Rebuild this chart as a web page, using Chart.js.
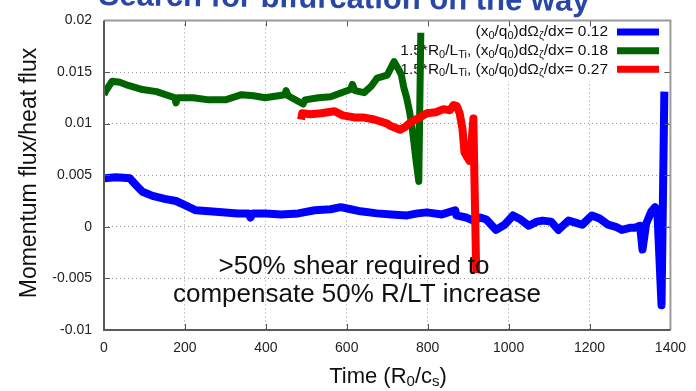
<!DOCTYPE html>
<html><head><meta charset="utf-8">
<script src="https://cdn.jsdelivr.net/npm/chart.js@4.4.0/dist/chart.umd.min.js"></script>
<style>html,body{margin:0;padding:0;background:#fff}#wrap{width:696px;height:391px;position:relative}</style>
</head><body><div id="wrap"><canvas id="c" width="696" height="391"></canvas></div>
<script>
// ---- data ----
const blueT=[0,30,64,80,95,120,150,178,200,227,260,292,330,357,362,368,400,438,480,521,560,585,610,634,675,710,749,775,798,835,868,871,895,913,930,945,969,990,1011,1030,1050,1070,1084,1105,1123,1148,1165,1182,1206,1225,1246,1265,1280,1300,1312,1325,1331,1340,1353,1362,1368,1378,1385];
const blueV=[0.0047,0.0048,0.0047,0.0040,0.0034,0.0030,0.0027,0.0025,0.0021,0.0016,0.0015,0.0014,0.0013,0.0013,0.0009,0.0013,0.0013,0.0012,0.0013,0.0016,0.0017,0.0019,0.0017,0.0015,0.0013,0.0012,0.0011,0.0013,0.0014,0.0012,0.0016,0.0011,0.0009,0.0006,0.0009,0.0007,-0.0003,0.0002,0.0011,0.0007,0.0001,0.0005,0.0006,0.0005,-0.0003,0.0006,0.0004,0.0002,0.0011,0.0008,0.0002,0.0000,-0.0003,-0.0001,-0.0001,0.0001,-0.0022,0.0003,0.0015,0.0019,0.0012,-0.0076,0.0131];
const greenT=[0,5,20,39,60,95,130,175,178,182,220,259,300,340,370,398,447,450,455,492,497,530,560,609,614,620,643,660,675,700,717,729,735,741,748,755,762,771,778,783];
const greenV=[0.0128,0.0132,0.0141,0.0140,0.0137,0.0133,0.0131,0.0125,0.0120,0.0125,0.0125,0.0123,0.0123,0.0128,0.0127,0.0125,0.0128,0.0132,0.0127,0.0119,0.0123,0.0125,0.0126,0.0133,0.0138,0.0132,0.0130,0.0136,0.0144,0.0147,0.0160,0.0152,0.0147,0.0135,0.0125,0.0112,0.0095,0.0065,0.0044,0.0188];
const redT=[487,490,510,536,570,590,619,640,668,700,707,720,732,745,757,780,798,820,839,855,864,872,879,886,891,903,908,913,915,920];
const redV=[0.0104,0.0110,0.0109,0.0110,0.0112,0.0108,0.0106,0.0106,0.0104,0.0100,0.0098,0.0096,0.0094,0.0097,0.0101,0.0106,0.0110,0.0111,0.0114,0.0113,0.0118,0.0117,0.0110,0.0095,0.0072,0.0064,0.0080,0.0105,0.0060,-0.0045];
const xTicks=[0,200,400,600,800,1000,1200,1400];
const xTickLabels=['0','200','400','600','800','1000','1200','1400'];
const yTicks=[-0.01,-0.005,0,0.005,0.01,0.015,0.02];
const yTickLabels=['-0.01','-0.005','0','0.005','0.01','0.015','0.02'];
// rich-text labels: [text, isSubscript]
const seriesLabels=[
  [['(x',0],['0',1],['/q',0],['0',1],[')dΩ',0],['ζ',1],['/dx= 0.12',0]],
  [['1.5*R',0],['0',1],['/L',0],['Ti',1],[', (x',0],['0',1],['/q',0],['0',1],[')dΩ',0],['ζ',1],['/dx= 0.18',0]],
  [['1.5*R',0],['0',1],['/L',0],['Ti',1],[', (x',0],['0',1],['/q',0],['0',1],[')dΩ',0],['ζ',1],['/dx= 0.27',0]]
];
const seriesColors=['#0000ff','#006400','#ff0000'];
const titleText='Search for bifurcation on the way';
const noteLines=['>50% shear required to','compensate 50% R/LT increase'];
const yTitle='Momentum flux/heat flux';
const xTitle=[['Time (R',0],['0',1],['/c',0],['s',1],[')',0]];

const FAM='"Liberation Sans", Arial, Helvetica, sans-serif';
function pts(t,v){return t.map((x,i)=>({x:x,y:v[i]}));}

function drawRich(ctx,segs,x,y,align,size,subSize,subDy){
  let w=0;
  segs.forEach(s=>{ctx.font=(s[1]?subSize:size)+'px '+FAM; w+=ctx.measureText(s[0]).width;});
  let cx = align==='right'? x-w : align==='center'? x-w/2 : x;
  ctx.textAlign='left';
  segs.forEach(s=>{
    ctx.font=(s[1]?subSize:size)+'px '+FAM;
    ctx.fillText(s[0],cx,y+(s[1]?subDy:0));
    cx+=ctx.measureText(s[0]).width;
  });
}

const deco={
  id:'deco',
  beforeDatasetsDraw(chart){
    const {ctx,chartArea:a}=chart;
    ctx.save();
    ctx.fillStyle='#fff';
    ctx.fillRect(345,a.top+1,a.right-345-1,80-a.top);
    ctx.fillStyle='#111';
    ctx.textBaseline='middle';
    const rowsY=[32,50.7,69.3];
    seriesLabels.forEach((segs,i)=>{
      drawRich(ctx,segs,608,rowsY[i],'right',15.5,11,4);
      ctx.strokeStyle=seriesColors[i];
      ctx.lineWidth=7;
      ctx.beginPath();ctx.moveTo(617,rowsY[i]);ctx.lineTo(659,rowsY[i]);ctx.stroke();
    });
    ctx.restore();
  },
  afterDatasetsDraw(chart){
    const {ctx,chartArea:a,scales}=chart;
    ctx.save();
    // inward ticks
    ctx.strokeStyle='#555';ctx.lineWidth=1;
    ctx.beginPath();
    xTicks.forEach(v=>{const px=Math.round(scales.x.getPixelForValue(v))+0.5;
      ctx.moveTo(px,a.bottom);ctx.lineTo(px,a.bottom-6);
      ctx.moveTo(px,a.top);ctx.lineTo(px,a.top+6);});
    yTicks.forEach(v=>{const py=Math.round(scales.y.getPixelForValue(v))+0.5;
      ctx.moveTo(a.left,py);ctx.lineTo(a.left+6,py);
      ctx.moveTo(a.right,py);ctx.lineTo(a.right-6,py);});
    ctx.stroke();
    // frame
    ctx.lineWidth=2;
    ctx.strokeStyle='#9a9a9a';
    ctx.beginPath();ctx.moveTo(a.left,a.top);ctx.lineTo(a.right,a.top);ctx.lineTo(a.right,a.bottom);ctx.stroke();
    ctx.strokeStyle='#5a5a5a';
    ctx.beginPath();ctx.moveTo(a.left,a.top);ctx.lineTo(a.left,a.bottom);ctx.lineTo(a.right,a.bottom);ctx.stroke();
    // annotation
    ctx.fillStyle='#111';ctx.textAlign='center';ctx.textBaseline='middle';
    ctx.font='26px '+FAM;
    ctx.fillText(noteLines[0],354,267);
    ctx.fillText(noteLines[1],357,295);
    // y title
    ctx.save();ctx.translate(30,173);ctx.rotate(-Math.PI/2);
    ctx.font='23px '+FAM;ctx.fillText(yTitle,0,0);ctx.restore();
    // x title
    ctx.textBaseline='middle';
    drawRich(ctx,xTitle,388,377,'center',22,15,5);
    // slide title (clipped at top)
    ctx.save();ctx.translate(344,8);ctx.rotate(0.012);
    ctx.font='bold 31px '+FAM;ctx.fillStyle='#2a46a6';ctx.textAlign='center';ctx.textBaseline='alphabetic';
    ctx.fillText(titleText,0,0);ctx.restore();
    ctx.restore();
  }
};

new Chart(document.getElementById('c'),{
  type:'line',
  data:{datasets:[
    {label:'blue',data:pts(blueT,blueV),borderColor:seriesColors[0],borderWidth:8,order:3},
    {label:'green',data:pts(greenT,greenV),borderColor:seriesColors[1],borderWidth:7,order:2},
    {label:'red',data:pts(redT,redV),borderColor:seriesColors[2],borderWidth:8,order:1}
  ]},
  options:{
    responsive:false,animation:false,devicePixelRatio:1,
    parsing:true,
    elements:{point:{radius:0},line:{tension:0,borderJoinStyle:'round',borderCapStyle:'butt'}},
    layout:{padding:{top:16,right:20,left:0,bottom:0}},
    plugins:{legend:{display:false},tooltip:{enabled:false}},
    scales:{
      x:{type:'linear',min:0,max:1400,
        afterBuildTicks:s=>{s.ticks=xTicks.map(v=>({value:v}));},
        afterFit:s=>{s.height=61;},
        ticks:{callback:(v,i)=>xTickLabels[i],color:'#222',font:{size:14,family:FAM},padding:10,maxRotation:0,autoSkip:false},
        grid:{color:'#9a9a9a',lineWidth:1,drawTicks:false},
        border:{display:false,dash:[1,3]}},
      y:{type:'linear',min:-0.01,max:0.02,
        afterBuildTicks:s=>{s.ticks=yTicks.map(v=>({value:v}));},
        afterFit:s=>{s.width=104;},
        ticks:{callback:(v,i)=>yTickLabels[i],color:'#222',font:{size:14,family:FAM},padding:12,autoSkip:false},
        grid:{color:'#9a9a9a',lineWidth:1,drawTicks:false},
        border:{display:false,dash:[1,3]}}
    }
  },
  plugins:[deco]
});
</script></body></html>
